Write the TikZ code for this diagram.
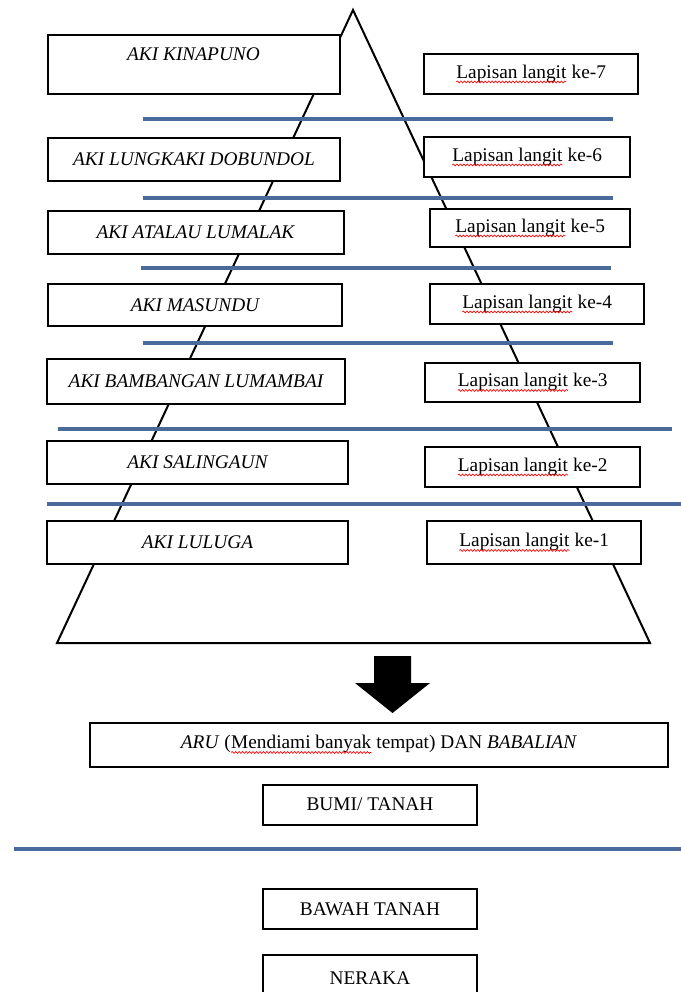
\documentclass[tikz,border=0pt]{standalone}
\usepackage{fontspec}
\setmainfont{Liberation Serif}
\usetikzlibrary{decorations.pathmorphing,positioning}

% red wavy spell-check underline
\newcommand{\spellwave}[1]{\tikz[baseline=(w.base)]{\node [inner sep=0pt, outer sep=0pt, minimum width=0pt, minimum height=0pt, draw=none, fill=none] (w) {#1};
  \draw [red, line width=0.5pt, decorate, decoration={snake, amplitude=0.7pt, segment length=2.6pt}] ([yshift=-2.8pt]w.base west) -- ([yshift=-2.8pt]w.base east);}}

\begin{document}
\begin{tikzpicture}[x=0.75pt,y=-0.75pt]
  \tikzstyle{aki}=[rectangle, draw=black, fill=white, line width=1.5pt, minimum width=219pt, minimum height=32pt, inner sep=0pt, font=\fontsize{14.5}{16}\selectfont\itshape]
  \tikzstyle{lapisan}=[rectangle, draw=black, fill=white, line width=1.5pt, minimum height=29pt, inner sep=0pt, font=\fontsize{14.5}{16}\selectfont]
  \tikzstyle{world}=[rectangle, draw=black, fill=white, line width=1.5pt, minimum width=161pt, minimum height=30pt, inner sep=0pt, font=\fontsize{14.5}{16}\selectfont]
  \tikzstyle{layerline}=[draw=layerblue, line width=2.4pt]
  \definecolor{layerblue}{RGB}{74,106,153}

  \useasboundingbox (0,0) rectangle (681,992);

  % pyramid
  \coordinate (apex) at (353,10);
  \coordinate (baseleft) at (57,643);
  \coordinate (baseright) at (650,643);
  \draw [line width=1.5pt, line join=miter] (apex) -- (baseleft) -- (baseright) -- cycle;

  % layer lines
  \draw [layerline] (143,119) -- (613,119);
  \draw [layerline] (143,198) -- (613,198);
  \draw [layerline] (141,268) -- (611,268);
  \draw [layerline] (143,343) -- (613,343);
  \draw [layerline] (58,429) -- (672,429);
  \draw [layerline] (47,504) -- (681,504);

  % left column
  \node [aki, minimum height=44pt] (kinapuno) at (193.5,64.5) {};
  \node [font=\fontsize{14.5}{16}\selectfont\itshape, inner sep=0pt] (kinapunotext) at (193.5,54) {AKI KINAPUNO};
  \node [aki] (lungkaki) at (194,159.5) {AKI LUNGKAKI DOBUNDOL};
  \node [aki, minimum width=222pt] (atalau) at (195.5,232.5) {AKI ATALAU LUMALAK};
  \node [aki, minimum width=221pt] (masundu) at (195,305) {AKI MASUNDU};
  \node [aki, minimum width=223pt, minimum height=34pt] (bambangan) at (196,381.5) {AKI BAMBANGAN LUMAMBAI};
  \node [aki, minimum width=226pt] (salingaun) at (197.5,462.5) {AKI SALINGAUN};
  \node [aki, minimum width=226pt] (luluga) at (197.5,542.5) {AKI LULUGA};

  % right column
  \node [lapisan, minimum width=160pt, minimum height=30pt] (ke7) at (531,74) {\spellwave{Lapisan langit} ke-7};
  \node [lapisan, minimum width=155pt, minimum height=30pt] (ke6) at (527,157) {\spellwave{Lapisan langit} ke-6};
  \node [lapisan, minimum width=150pt] (ke5) at (530,228) {\spellwave{Lapisan langit} ke-5};
  \node [lapisan, minimum width=160pt, minimum height=30pt] (ke4) at (537,304) {\spellwave{Lapisan langit} ke-4};
  \node [lapisan, minimum width=161pt] (ke3) at (532.5,382.5) {\spellwave{Lapisan langit} ke-3};
  \node [lapisan, minimum width=161pt, minimum height=30pt] (ke2) at (532.5,467) {\spellwave{Lapisan langit} ke-2};
  \node [lapisan, minimum width=160pt, minimum height=32pt] (ke1) at (534,542.5) {\spellwave{Lapisan langit} ke-1};

  % arrow down
  \fill [black] (374,656) -- (411,656) -- (411,683) -- (430,683) -- (392.5,713) -- (355,683) -- (374,683) -- cycle;

  % below the pyramid
  \node [world, minimum width=434pt, minimum height=33pt] (aru) at (379,744.5) {\textit{ARU} (\spellwave{Mendiami banyak} tempat) DAN \textit{BABALIAN}};
  \node [world] (bumi) at (370,804.5) {BUMI/ TANAH};
  \draw [layerline] (14,849) -- (681,849);
  \node [world] (bawah) at (370,909) {BAWAH TANAH};
  \node [world, minimum height=34pt] (neraka) at (370,978) {NERAKA};
\end{tikzpicture}
\end{document}
